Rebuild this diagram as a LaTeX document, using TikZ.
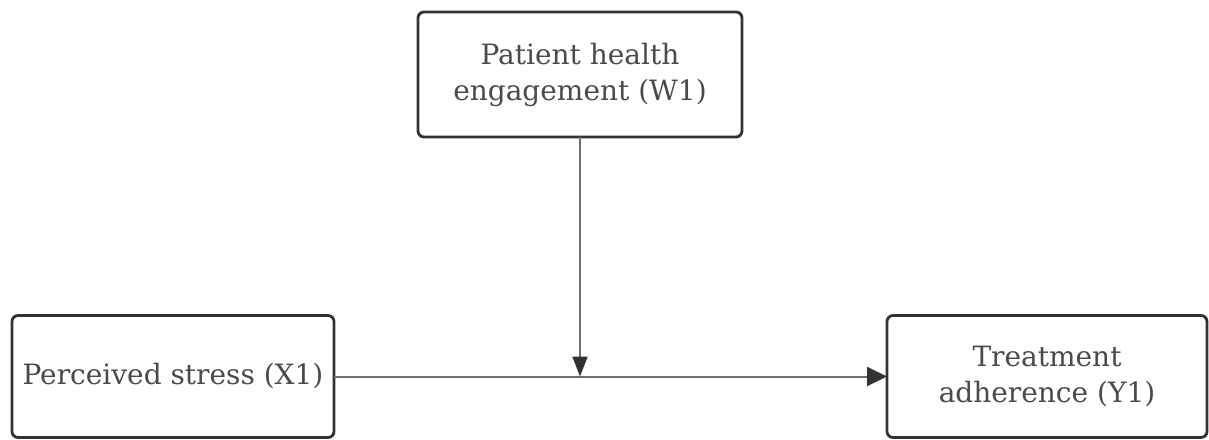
\documentclass[tikz,border=0pt]{standalone}
\usepackage{fontspec}
\setmainfont{DejaVu Serif}
\usetikzlibrary{arrows.meta,positioning}
\definecolor{boxline}{HTML}{333333}
\definecolor{textgray}{HTML}{4A4A4A}
\definecolor{linkgray}{HTML}{707070}

\begin{document}
\begin{tikzpicture}[x=1pt,y=-1pt,
    var/.style={draw=boxline,line width=2.8pt,rounded corners=6pt,outer sep=0pt,
        text=textgray,align=center,inner sep=0pt,minimum height=122pt,
        font=\fontsize{28}{36}\selectfont},
    link/.style={draw=linkgray,line width=2pt,
        -{Triangle[length=20pt,width=19pt,color=boxline]}}]

    \useasboundingbox (0,0) rectangle (1209,439);

    % the three variables
    \node[var,minimum width=322pt]                     (stress) at (173,376.5)       {Perceived stress (X1)};
    \node[var,minimum width=320pt]                     (adher)  [right=553pt of stress] {Treatment\\adherence (Y1)};
    \node[var,minimum width=324pt,minimum height=125pt] (engage) at (580,74.5)        {Patient health\\engagement (W1)};

    \coordinate (mod) at (engage.south |- stress.east);

    % direct path and moderation
    \draw[link] (stress) -- (adher);
    \draw[link,-{Triangle[length=20pt,width=15pt,color=boxline]}] (engage) -- (mod);
\end{tikzpicture}
\end{document}
